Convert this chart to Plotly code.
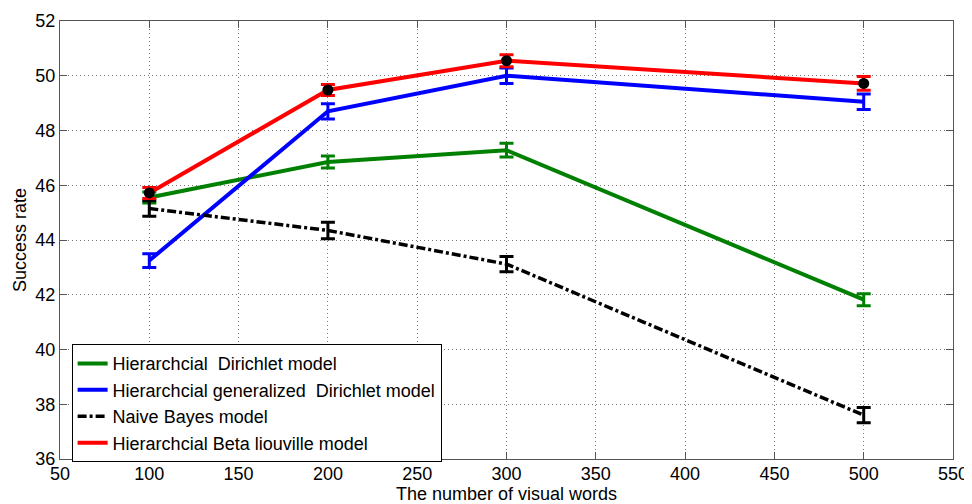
import plotly.graph_objects as go

x_words = [100, 200, 300, 500]

hd_vals = [45.55, 46.85, 47.28, 41.82]
hd_err = [0.2, 0.22, 0.25, 0.22]

hgd_vals = [43.25, 48.7, 50.0, 49.05]
hgd_err = [0.25, 0.28, 0.28, 0.28]

nb_vals = [45.15, 44.35, 43.12, 37.6]
nb_err = [0.28, 0.3, 0.28, 0.28]

hbl_vals = [45.72, 49.48, 50.55, 49.72]
hbl_err = [0.2, 0.2, 0.22, 0.25]

names = [
    "Hierarchcial  Dirichlet model",
    "Hierarchcial generalized  Dirichlet model",
    "Naive Bayes model",
    "Hierarchcial Beta liouville model",
]

x_ticks = [50, 100, 150, 200, 250, 300, 350, 400, 450, 500, 550]
y_ticks = [36, 38, 40, 42, 44, 46, 48, 50, 52]

FONT = "Liberation Sans, Arial, sans-serif"

fig = go.Figure()

def add_series(vals, err, name, color, width, dash="solid"):
    fig.add_trace(go.Scatter(
        x=x_words, y=vals, name=name, mode="lines",
        line=dict(color=color, width=width, dash=dash),
        error_y=dict(type="data", array=err, visible=True, color=color,
                     thickness=3, width=7),
    ))

add_series(hd_vals, hd_err, names[0], "#008000", 4)
add_series(hgd_vals, hgd_err, names[1], "#0000ff", 4)
add_series(nb_vals, nb_err, names[2], "#000000", 3.5, dash="9px,3px,3px,3px")
add_series(hbl_vals, hbl_err, names[3], "#ff0000", 4)

fig.add_trace(go.Scatter(
    x=x_words, y=hbl_vals, mode="markers", showlegend=False,
    marker=dict(color="black", size=11, symbol="circle"),
    hoverinfo="skip",
))

axis_common = dict(
    showline=True, linecolor="#555555", linewidth=1, mirror="ticks",
    ticks="inside", ticklen=7, tickcolor="#555555",
    showgrid=True, gridcolor="#777777", griddash="1px,3px", gridwidth=1,
    zeroline=False, automargin=False,
    tickfont=dict(family=FONT, size=18, color="black"),
)

fig.update_xaxes(
    range=[50, 550], tickvals=x_ticks, ticklabelstandoff=-2,
    title=dict(text="The number of visual words", standoff=2,
               font=dict(family=FONT, size=18, color="black")),
    **axis_common,
)
fig.update_yaxes(
    range=[36, 52], tickvals=y_ticks,
    title=dict(text="Success rate", standoff=4,
               font=dict(family=FONT, size=18, color="black")),
    **axis_common,
)

# page body has an 8px margin, so the figure is sized to fit the 972x504 window
fig.update_layout(
    width=964, height=496,
    margin=dict(l=52, r=19, t=13, b=45),
    plot_bgcolor="white", paper_bgcolor="white",
    legend=dict(
        x=0.013, y=0.262, xanchor="left", yanchor="top",
        bgcolor="white", bordercolor="black", borderwidth=1,
        font=dict(family=FONT, size=18, color="black"),
        tracegroupgap=0, itemwidth=30,
    ),
)

fig.write_html("out.html")
